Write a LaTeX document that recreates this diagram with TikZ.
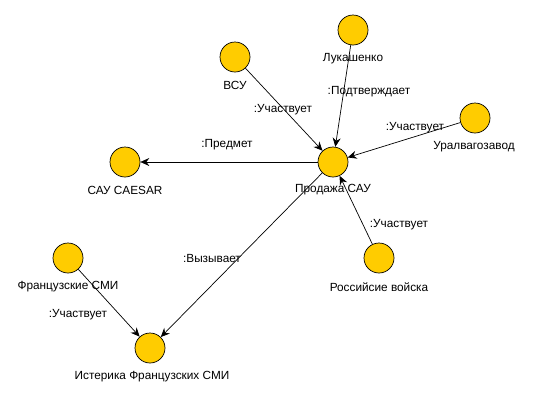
\documentclass[tikz,border=0pt]{standalone}
\usepackage{fontspec}
\setmainfont{Liberation Sans}
\usetikzlibrary{arrows.meta}
\begin{document}
\begin{tikzpicture}[x=1pt,y=-1pt,
  ent/.style={circle,draw=black,line width=0.7pt,fill=gold,minimum size=30pt,inner sep=0pt},
  txt/.style={font=\fontsize{11.8}{13}\selectfont,inner sep=0pt,text=black},
  rel/.style={draw=black,line width=0.7pt,-{Stealth[length=9pt,width=8pt,inset=3pt]}},
]
\definecolor{gold}{HTML}{FFCC00}
\useasboundingbox (0,0) rectangle (534,402);
% entities
\node[ent] (vsu) at (235,57) {};
\node[ent] (luk) at (353,30) {};
\node[ent] (ural) at (475,118) {};
\node[ent] (sale) at (333,162) {};
\node[ent] (caesar) at (125,162) {};
\node[ent] (fr) at (68,258) {};
\node[ent] (hyst) at (150,348) {};
\node[ent] (ru) at (379,258) {};
% connectors
\draw[rel] (vsu) -- (sale);
\draw[rel] (luk) -- (sale);
\draw[rel] (ural) -- (sale);
\draw[rel] (sale) -- (caesar);
\draw[rel] (sale) -- (hyst);
\draw[rel] (ru) -- (sale);
\draw[rel] (fr) -- (hyst);
% entity names
\node[txt] (vsuT) at (235,85) {ВСУ};
\node[txt] (lukT) at (353,59) {Лукашенко};
\node[txt] (uralT) at (474,147) {Уралвагозавод};
\node[txt] (saleT) at (333,190) {Продажа САУ};
\node[txt] (caesarT) at (125,190) {САУ CAESAR};
\node[txt] (frT) at (68,287) {Французские СМИ};
\node[txt] (hystT) at (152,377) {Истерика Французских СМИ};
\node[txt] (ruT) at (379,287) {Российсие войска};
% relation labels
\node[txt] (l1) at (283,110) {:Участвует};
\node[txt] (l2) at (369,92) {:Подтверждает};
\node[txt] (l3) at (415,128) {:Участвует};
\node[txt] (l4) at (227,145) {:Предмет};
\node[txt] (l5) at (212,258) {:Вызывает};
\node[txt] (l6) at (78,315) {:Участвует};
\node[txt] (l7) at (399,225) {:Участвует};
\end{tikzpicture}
\end{document}
